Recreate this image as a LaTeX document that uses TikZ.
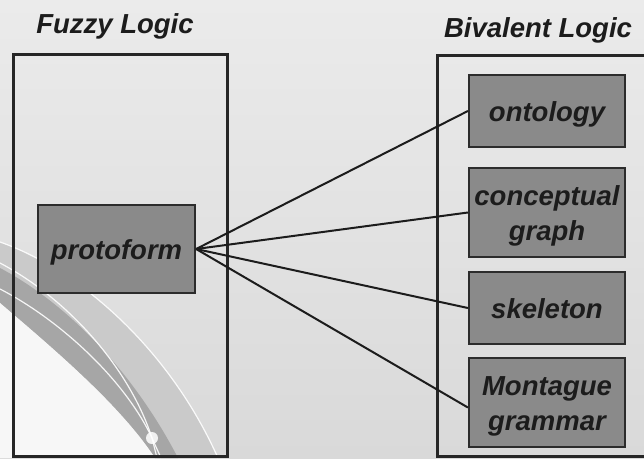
\documentclass[tikz,border=0pt]{standalone}
\usepackage{fontspec}
\setmainfont{Liberation Sans}
\definecolor{bgtop}{HTML}{EBEBEB}
\definecolor{bgbot}{HTML}{D9D9D9}
\definecolor{boxfill}{HTML}{8A8A8A}
\definecolor{boxline}{HTML}{2C2C2C}
\definecolor{frameline}{HTML}{262626}
\definecolor{txt}{HTML}{1C1C1C}
\definecolor{banddark}{HTML}{A6A6A6}
\definecolor{bandlight}{HTML}{CACACA}
\begin{document}
\begin{tikzpicture}[x=1pt,y=-1pt,
  lbl/.style={font=\fontsize{27.5}{35}\selectfont\bfseries\itshape, text=txt},
  titlelbl/.style={lbl, anchor=base, inner sep=0pt},
  frame/.style={draw=frameline, line width=3pt},
  item/.style={lbl, draw=boxline, fill=boxfill, line width=2.2pt, inner sep=0pt,
     minimum width=156pt, align=center, text height=22pt, text depth=1pt},
  oneline/.style={minimum height=72pt},
  twoline/.style={minimum height=89pt, text height=57pt, text depth=2pt},
  link/.style={draw=txt, line width=2pt},
  arc/.style={draw=white, line width=1.2pt, opacity=0.9}]
\useasboundingbox (0,0) rectangle (644,458);
% background
\shade[top color=bgtop, bottom color=bgbot] (0,0) rectangle (644,458);
% decorative swoosh bottom-left
\fill[bandlight] (0,242) .. controls (80,270) and (170,350) .. (218,458)
   -- (155,458) .. controls (120,405) and (55,350) .. (0,303) -- cycle;
\fill[banddark] (0,268) .. controls (70,305) and (135,375) .. (178,458)
   -- (155,458) .. controls (120,405) and (55,350) .. (0,303) -- cycle;
\fill[white!97!black] (0,303) .. controls (55,350) and (120,405) .. (155,458) -- (0,458) -- cycle;
\draw[arc] (0,242) .. controls (80,270) and (170,350) .. (218,458);
\draw[arc] (0,263) .. controls (70,300) and (130,370) .. (152,438) -- (157,458);
\draw[arc] (0,289) .. controls (60,320) and (125,380) .. (152,438) -- (161,458);
\fill[white, opacity=0.85] (152,438) circle (6pt);
% titles
\node[titlelbl] (tf) at (115,33) {Fuzzy Logic};
\node[titlelbl] (tb) at (538,37) {Bivalent Logic};
% frames
\draw[frame] (13,54) rectangle (227,456);
\draw[frame] (437,55) rectangle (652,456);
% nodes
\node[item, oneline, minimum width=157pt, minimum height=88pt] (proto) at (116.5,249) {protoform};
\node[item, oneline] (onto) at (547,111) {ontology};
\node[item, twoline] (concept) at (547,212.5) {conceptual\\graph};
\node[item, oneline] (skel) at (547,308) {skeleton};
\node[item, twoline] (mont) at (547,402.5) {Montague\\grammar};
% links
\draw[link] (proto.east) -- (onto.west);
\draw[link] (proto.east) -- (concept.west);
\draw[link] (proto.east) -- (skel.west);
\draw[link] (proto.east) -- ([yshift=-5pt]mont.west);
\end{tikzpicture}
\end{document}
